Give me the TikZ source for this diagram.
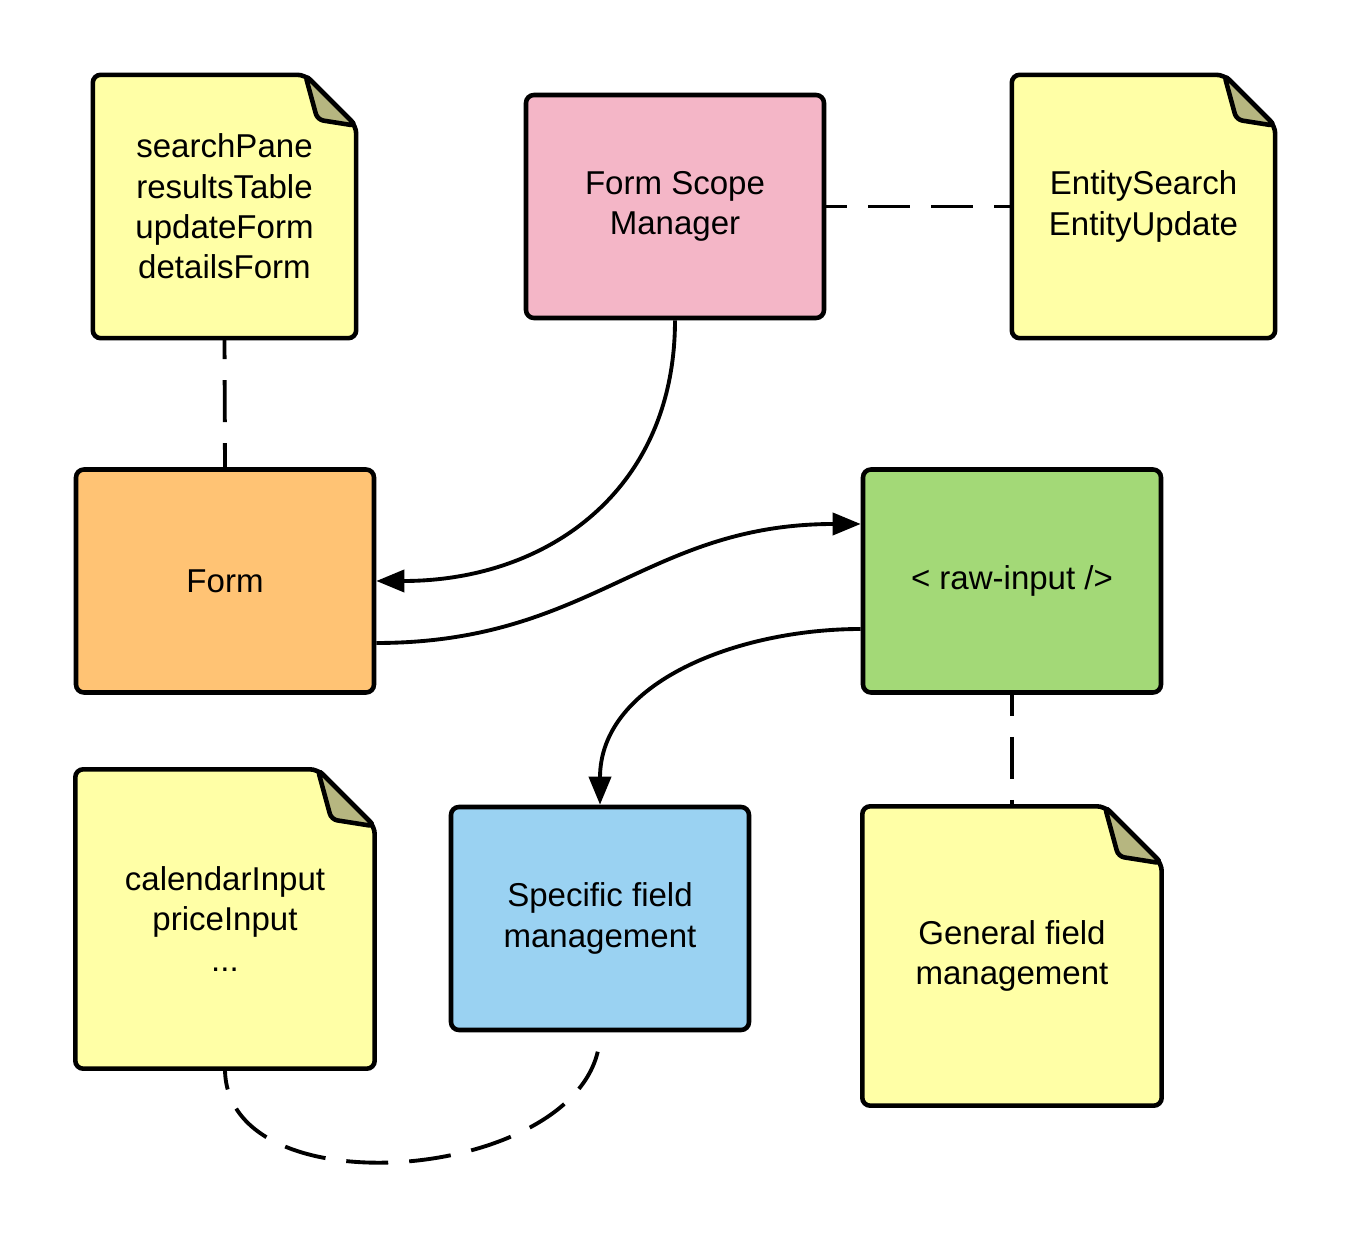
\documentclass[tikz,border=0pt]{standalone}
\usepackage{fontspec}
\setmainfont{Liberation Sans}
\usepackage{xcolor}
\usetikzlibrary{arrows.meta,backgrounds}

\definecolor{notefill}{HTML}{FFFFA6}
\definecolor{foldfill}{HTML}{B6B680}
\definecolor{scopepink}{HTML}{F4B6C7}
\definecolor{formorange}{HTML}{FFC374}
\definecolor{rawgreen}{HTML}{A3D977}
\definecolor{specblue}{HTML}{9AD2F2}

\tikzset{
  box/.style={draw, line width=1.3pt, rounded corners=0.08cm, minimum width=2.98cm,
    minimum height=2.23cm, align=center, font=\fontsize{9.4}{11.5}\selectfont},
  note/.style={minimum width=#1, minimum height=#1, align=center,
    font=\fontsize{9.4}{11.5}\selectfont},
  link/.style={line width=1.1pt, -{Triangle[length=0.28cm,width=0.22cm]}},
  dashlink/.style={line width=1.1pt, dash pattern=on 0.42cm off 0.21cm, dash phase=0.21cm}
}

\newcommand{\drawnote}[2]{%
\begin{pgfonlayer}{background}
\draw[line width=1.3pt, fill=notefill, rounded corners=0.08cm] (#1.south west) -- (#1.north west)
  -- ([xshift=-#2]#1.north east) -- ([yshift=-#2]#1.north east) -- (#1.south east) -- cycle;
\draw[line width=1.3pt, fill=foldfill, rounded corners=0.06cm] ([xshift=-#2]#1.north east)
  -- ([shift={(-0.76*#2,-0.88*#2)}]#1.north east) -- ([yshift=-#2]#1.north east) -- cycle;
\end{pgfonlayer}}

\begin{document}
\begin{tikzpicture}
\useasboundingbox (0,0) rectangle (13.5,-12.39);

\node[note=2.62cm] (panes) at (2.245,-2.065) {searchPane\\resultsTable\\updateForm\\detailsForm};
\node[box, fill=scopepink] (scope) at (6.75,-2.065) {Form Scope\\Manager};
\node[note=2.62cm] (entities) at (11.435,-2.065) {EntitySearch\\EntityUpdate};
\node[box, fill=formorange] (form) at (2.25,-5.81) {Form};
\node[box, fill=rawgreen] (raw) at (10.12,-5.81) {< raw-input />};
\node[note=2.98cm] (inputs) at (2.25,-9.19) {calendarInput\\priceInput\\...};
\node[box, fill=specblue] (spec) at (6.0,-9.185) {Specific field\\management};
\node[note=2.98cm] (general) at (10.12,-9.56) {General field\\management};

\drawnote{panes}{0.51cm}
\drawnote{entities}{0.51cm}
\drawnote{inputs}{0.57cm}
\drawnote{general}{0.57cm}

\draw[dashlink] (panes.south) -- (form.north);
\draw[dashlink] (scope.east) -- (entities.west);
\draw[dashlink] (raw.south) -- (general.north);
\draw[dashlink] (inputs.south) to[out=-90,in=-90] (spec.south);

\draw[link] (scope.south) to[out=-90,in=0,looseness=1.1] (form.east);
\draw[link] ([yshift=-0.62cm]form.east) to[out=0,in=180,looseness=1.1] ([yshift=0.57cm]raw.west);
\draw[link] ([yshift=-0.48cm]raw.west) to[out=180,in=90] (spec.north);
\end{tikzpicture}
\end{document}
